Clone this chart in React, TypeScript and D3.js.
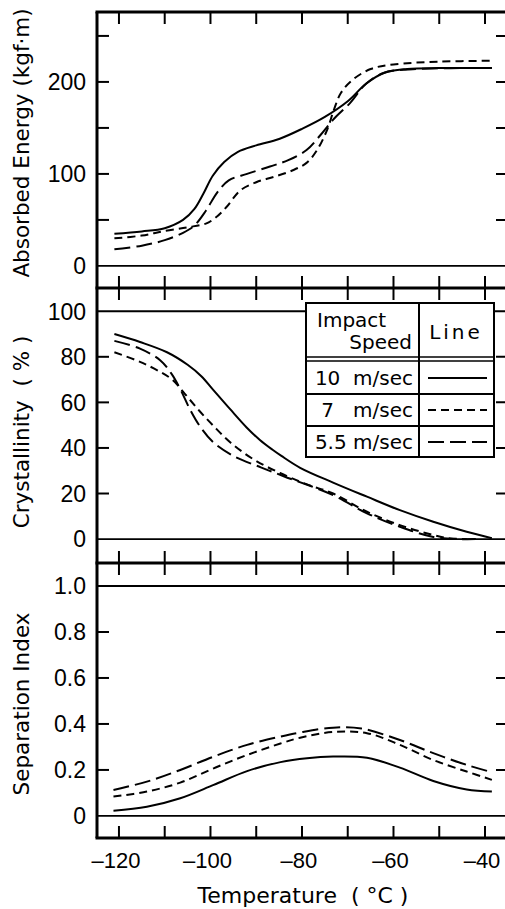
import React from "react";
import * as d3 from "d3";

// ---------- data ----------
const xTicks = [-120, -110, -100, -90, -80, -70, -60, -50, -40];
const xTickLabels = [-120, -100, -80, -60, -40];

const energyTicks = [50, 100, 150, 200, 250];
const energyLabels = [0, 100, 200];
const crystTicks = [20, 40, 60, 80];
const crystLabels = [0, 20, 40, 60, 80, 100];
const sepTicks = [0.2, 0.4, 0.6, 0.8];
const sepLabels = [0, 0.2, 0.4, 0.6, 0.8, 1.0];

const speeds = ["10  m/sec", "7   m/sec", "5.5 m/sec"];

const energy10: [number, number][] = [[-121,35],[-115,37.5],[-110,41],[-106,50],[-103.5,62],[-101.5,79],[-99.5,98],[-97,113],[-94,124],[-90,131],[-85,138],[-80,149],[-75,162],[-70,179],[-66,198],[-62,210],[-57,214],[-50,215],[-38.5,215]];
const energy7: [number, number][] = [[-121,30],[-115,33],[-110,38],[-105,42],[-101,46],[-99,52],[-96.5,64],[-93.5,82],[-90,91],[-86,97],[-82,104],[-79,112],[-76.7,126],[-74.5,148],[-73,170],[-71.5,188],[-69,202],[-65,214],[-60,219],[-50,222],[-38.5,223]];
const energy55: [number, number][] = [[-121,18],[-115,22],[-110,28],[-106,36],[-103.5,44],[-101,60],[-98.5,80],[-96,93],[-92,100],[-87,108],[-83,115],[-79,126],[-76,142],[-73,160],[-69.5,177],[-66,198],[-62,210],[-55,214],[-38.5,215]];

const cryst10: [number, number][] = [[-121,90],[-115.4,86.5],[-109.5,82],[-105,76.5],[-102,71.5],[-99.4,65.5],[-95.7,57],[-92.1,49],[-89.2,43.5],[-86.5,39.3],[-84.5,36.5],[-80.4,31.3],[-73.2,24.8],[-65.8,18.6],[-58.6,12.7],[-51.3,7.6],[-44,3.2],[-38.5,0.4]];
const cryst7: [number, number][] = [[-121,82],[-115.4,77.8],[-111,73.4],[-108.2,69.7],[-105.2,62.8],[-102.3,56],[-99.4,49.8],[-95.7,42.5],[-90.6,35],[-84.8,29],[-78.9,24],[-73.2,20],[-65.8,12],[-58.6,6.1],[-51.3,1.8],[-47.6,0.3],[-44,0]];
const cryst55: [number, number][] = [[-121,87],[-115.4,83.6],[-111,78.5],[-108.5,72.5],[-106.5,65.4],[-104.5,57],[-102.3,49.5],[-99.4,42.5],[-95,36.5],[-89,31.5],[-84,27.6],[-73.2,19.3],[-65.8,11.3],[-58.6,5.4],[-51.3,0.9],[-45.4,0],[-42,0]];

const sep10: [number, number][] = [[-121.2,0.023],[-113.9,0.04],[-106.6,0.077],[-99.3,0.135],[-92,0.195],[-84.7,0.234],[-78.9,0.251],[-73.2,0.258],[-65.8,0.253],[-58.6,0.21],[-51.3,0.152],[-44,0.115],[-38.5,0.106]];
const sep7: [number, number][] = [[-121.2,0.084],[-113.9,0.106],[-106.6,0.145],[-99.3,0.207],[-92,0.265],[-84.7,0.315],[-80.4,0.34],[-73.2,0.365],[-65.8,0.36],[-58.6,0.309],[-51.3,0.243],[-44,0.193],[-38.5,0.157]];
const sep55: [number, number][] = [[-121.2,0.113],[-113.9,0.149],[-106.6,0.2],[-99.3,0.258],[-92,0.309],[-84.7,0.345],[-80.4,0.363],[-73.2,0.384],[-67,0.38],[-58.6,0.33],[-51.3,0.273],[-44,0.222],[-38.5,0.19]];

// ---------- layout ----------
const W = 505, H = 909;
const FONT = "DejaVu Sans";
const NUMFONT = "Liberation Sans";
const left = 97, right = 540;
const tickRight = 496;
const dashes = [null, "8 5", "16 6"];

const x = d3.scaleLinear().domain([-124.8, -40]).range([left, 485]);

const panels = [
  { y: d3.scaleLinear().domain([-24, 276]).range([288, 12]), top: 12, bottom: 288, series: [energy10, energy7, energy55], ticks: energyTicks, labels: energyLabels, refs: [0], title: "Absorbed Energy (kgf·m)", tc: 143, fmt: (v: number) => String(v) },
  { y: d3.scaleLinear().domain([-10.5, 110.2]).range([563, 288]), top: 288, bottom: 563, series: [cryst10, cryst7, cryst55], ticks: crystTicks, labels: crystLabels, refs: [0, 100], title: "Crystallinity  ( % )", tc: 432, fmt: (v: number) => String(v) },
  { y: d3.scaleLinear().domain([-0.096, 1.1]).range([838, 563]), top: 563, bottom: 838, series: [sep10, sep7, sep55], ticks: sepTicks, labels: sepLabels, refs: [0, 1], title: "Separation Index", tc: 704, fmt: (v: number) => (v === 0 ? "0" : v.toFixed(1)) },
];

const TL = 12;

export default function App() {
  return (
    <svg width={W} height={H} style={{ position: "absolute", left: 0, top: 0, background: "#fff" }} fontFamily={FONT}>
      <rect width={W} height={H} fill="#fff" />
      {panels.map((p, pi) => {
        const line = d3.line<[number, number]>().x(d => x(d[0])).y(d => p.y(d[1])).curve(d3.curveCatmullRom.alpha(0.5));
        return (
          <g key={pi}>
            {p.refs.map(r => (
              <line key={r} x1={left} x2={right} y1={p.y(r)} y2={p.y(r)} stroke="#000" strokeWidth={1.8} />
            ))}
            {xTicks.map(t => (
              <g key={t}>
                <line x1={x(t)} x2={x(t)} y1={p.top} y2={p.top + TL} stroke="#000" strokeWidth={2} />
                <line x1={x(t)} x2={x(t)} y1={p.bottom} y2={p.bottom - TL} stroke="#000" strokeWidth={2} />
              </g>
            ))}
            {p.ticks.map(t => (
              <g key={t}>
                <line x1={left} x2={left + TL} y1={p.y(t)} y2={p.y(t)} stroke="#000" strokeWidth={2} />
                <line x1={tickRight} x2={right} y1={p.y(t)} y2={p.y(t)} stroke="#000" strokeWidth={2} />
              </g>
            ))}
            {p.labels.map(t => (
              <text key={t} x={86} y={p.y(t)} dy="0.36em" textAnchor="end" fontSize={23} fontFamily={NUMFONT}>{p.fmt(t)}</text>
            ))}
            <text transform={`translate(29,${p.tc}) rotate(-90)`} textAnchor="middle" fontSize={21.5} xmlSpace="preserve">{p.title}</text>
            {p.series.map((s, si) => (
              <path key={si} d={line(s) || ""} fill="none" stroke="#000" strokeWidth={2} strokeDasharray={dashes[si] || undefined} />
            ))}
          </g>
        );
      })}
      {/* frame */}
      <line x1={left} x2={left} y1={12} y2={838} stroke="#000" strokeWidth={3} />
      {[12, 288, 563, 838].map(yv => (
        <line key={yv} x1={left - 1.5} x2={right} y1={yv} y2={yv} stroke="#000" strokeWidth={3} />
      ))}
      {xTickLabels.map(t => (
        <text key={t} x={x(t) - 3} y={868} textAnchor="middle" fontSize={22} fontFamily={NUMFONT}>{"–" + Math.abs(t)}</text>
      ))}
      <text x={303} y={903} textAnchor="middle" fontSize={22} xmlSpace="preserve">{"Temperature  ( °C )"}</text>
      {/* legend */}
      <g>
        <rect x={306} y={303} width={188} height={154} fill="#fff" stroke="#000" strokeWidth={2} />
        <line x1={419} x2={419} y1={303} y2={457} stroke="#000" strokeWidth={2} />
        <line x1={306} x2={494} y1={357} y2={357} stroke="#000" strokeWidth={1.5} />
        <line x1={306} x2={494} y1={361} y2={361} stroke="#000" strokeWidth={1.5} />
        <line x1={306} x2={494} y1={394} y2={394} stroke="#000" strokeWidth={2} />
        <line x1={306} x2={494} y1={426} y2={426} stroke="#000" strokeWidth={2} />
        <text x={317} y={327} fontSize={20}>Impact</text>
        <text x={412} y={349} fontSize={20} textAnchor="end">Speed</text>
        <text x={456} y={339} fontSize={20} textAnchor="middle" letterSpacing={3}>Line</text>
        {speeds.map((s, i) => {
          const cy = 378 + i * 32;
          return (
            <g key={i}>
              <text x={413} y={cy} dy="0.36em" fontSize={20} textAnchor="end" xmlSpace="preserve">{s}</text>
              <line x1={428} x2={487} y1={cy} y2={cy} stroke="#000" strokeWidth={2} strokeDasharray={dashes[i] || undefined} />
            </g>
          );
        })}
      </g>
    </svg>
  );
}
